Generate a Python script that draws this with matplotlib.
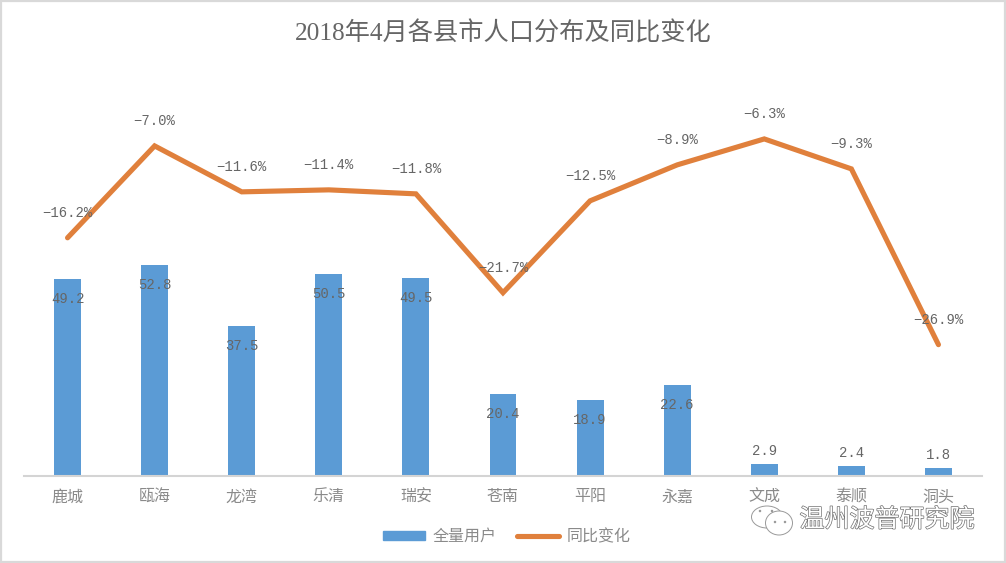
import matplotlib
matplotlib.use("Agg")
import matplotlib.pyplot as plt
import matplotlib.patheffects as pe
from matplotlib.lines import Line2D
from matplotlib.patches import Ellipse, Patch, Rectangle

plt.rcParams['font.family'] = ['Liberation Serif', 'Noto Sans CJK SC', 'DejaVu Sans']

counties = ["鹿城", "瓯海", "龙湾", "乐清", "瑞安", "苍南", "平阳", "永嘉", "文成", "泰顺", "洞头"]
users = [49.2, 52.8, 37.5, 50.5, 49.5, 20.4, 18.9, 22.6, 2.9, 2.4, 1.8]
yoy = [-16.2, -7.0, -11.6, -11.4, -11.8, -21.7, -12.5, -8.9, -6.3, -9.3, -26.9]

BLUE = "#5B9BD5"
ORANGE = "#E0803C"
GREY = "#666666"
MONO = ['Liberation Mono', 'DejaVu Sans Mono']
W, H = 1006, 563

fig = plt.figure(figsize=(W / 100, H / 100), dpi=100, facecolor="white")
ax = fig.add_axes([24 / W, 1 - 475.5 / H, 958 / W, 399.5 / H])
ax2 = ax.twinx()
x = list(range(len(counties)))

# bars on the left axis, line on a hidden right axis
ax.bar(x, users, width=0.31, color=BLUE, zorder=2)
ax.set_xlim(-0.5, 10.5)
ax.set_ylim(0, 100)
ax.set_yticks([])
ax.set_xticks(x)
ax.set_xticklabels(counties, fontsize=11.5, color="#8a8a8a")
ax.tick_params(axis="x", length=0, pad=10)
for s in ["top", "left", "right"]:
    ax.spines[s].set_visible(False)
    ax2.spines[s].set_visible(False)
ax.spines["bottom"].set_color("#d4d4d4")
ax.spines["bottom"].set_linewidth(1.5)
ax2.spines["bottom"].set_visible(False)

ax2.plot(x, yoy, color=ORANGE, lw=3.7, solid_joinstyle="miter", solid_capstyle="round", zorder=3)
ax2.set_ylim(-40, 0)
ax2.set_yticks([])

# data labels
for i, v in enumerate(users):
    off = 6 if v < 5 else -20
    va = "bottom" if v < 5 else "center"
    ax.annotate(f"{v:.1f}", (i, v), xytext=(0, off * 0.72), textcoords="offset points",
                ha="center", va=va, fontsize=10, family=MONO, color=GREY, zorder=4)
for i, v in enumerate(yoy):
    ax2.annotate(f"−{abs(v):.1f}%", (i, v), xytext=(0, 25 * 0.72), textcoords="offset points",
                 ha="center", va="center", fontsize=10, family=MONO, color=GREY, zorder=4)

fig.text(503 / W, 1 - 33 / H, "2018年4月各县市人口分布及同比变化", ha="center", va="center",
         fontsize=18.2, color="#666666")

handles = [Patch(color=BLUE), Line2D([0], [0], color=ORANGE, lw=3.7, solid_capstyle="round")]
fig.legend(handles, ["全量用户", "同比变化"], ncols=2, frameon=False, fontsize=11.5,
           labelcolor="#8a8a8a", loc="center", bbox_to_anchor=(507 / W, 1 - 537 / H),
           handlelength=2.6, handleheight=0.5, handletextpad=0.5, columnspacing=1.3)

# watermark
fig.text(887 / W, 1 - 520 / H, "温州波普研究院", ha="center", va="center", fontsize=18,
         color="white", path_effects=[pe.withStroke(linewidth=1.0, foreground="#707070")], zorder=6)
px = dict(transform=None, zorder=6)
for cx, cy, w, h in [(767, 517, 31, 22), (779, 523, 27, 24)]:
    fig.add_artist(Ellipse((cx, H - cy), w, h, facecolor="white", edgecolor="#999999", lw=0.7, **px))
for cx, cy in [(760, 511), (772, 511), (775, 522), (785, 522)]:
    fig.add_artist(Ellipse((cx, H - cy), 2.5, 2.5, facecolor="#999999", edgecolor="none", **px))

# grey chart frame
fig.add_artist(Rectangle((1, 1), W - 2, H - 2, transform=None, facecolor="none",
                         edgecolor="#d9d9d9", lw=1.6, zorder=7))

fig.savefig("out.png", dpi=100)
